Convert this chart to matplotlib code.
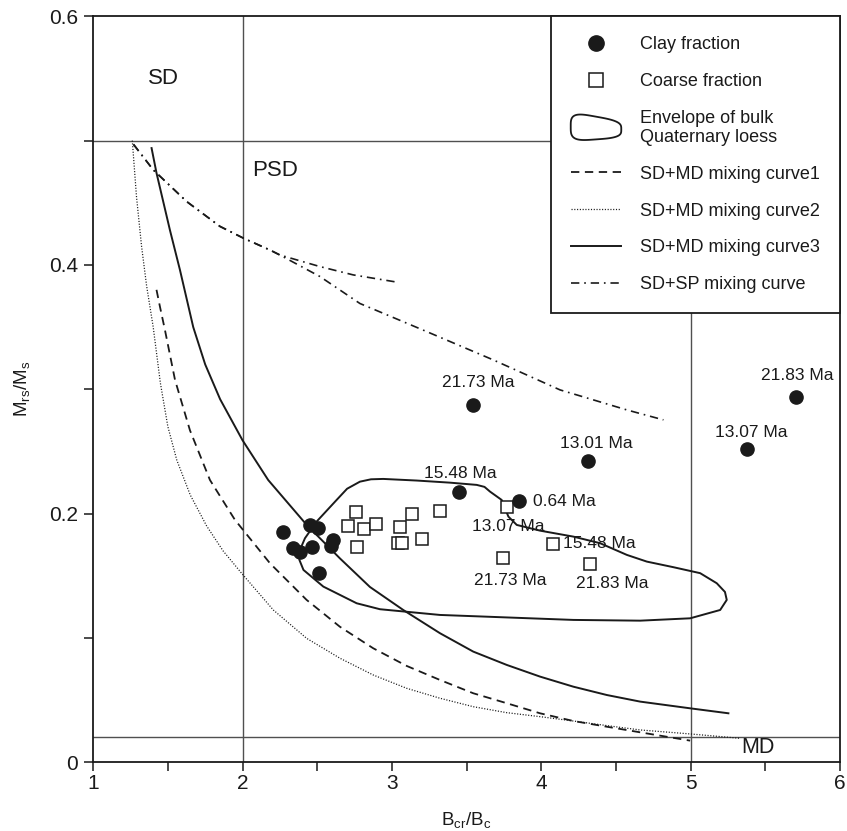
import numpy as np
import matplotlib
matplotlib.use("Agg")
import matplotlib.pyplot as plt
from matplotlib.lines import Line2D
from matplotlib.patches import Polygon
from matplotlib.legend_handler import HandlerPatch

plt.rcParams["font.family"] = ["Liberation Sans", "DejaVu Sans"]
plt.rcParams["mathtext.fontset"] = "custom"
plt.rcParams["mathtext.rm"] = "Liberation Sans"
plt.rcParams["mathtext.it"] = "Liberation Sans"
plt.rcParams["lines.scale_dashes"] = False

# ---- data: Bcr/Bc and Mrs/Ms -------------------------------------------
clay_x = [2.273, 2.451, 2.507, 2.340, 2.384, 2.463, 2.590, 2.605, 2.512,
          3.541, 4.311, 5.707, 5.376, 3.452, 3.853]
clay_y = [0.1855, 0.1909, 0.1882, 0.1722, 0.1694, 0.1735, 0.1740, 0.1785, 0.1526,
          0.2875, 0.2427, 0.2936, 0.2518, 0.2172, 0.2100]
clay_ages = ["", "", "", "", "", "", "", "", "",
             "21.73 Ma", "13.01 Ma", "21.83 Ma", "13.07 Ma", "15.48 Ma", "0.64 Ma"]

coarse_x = [2.757, 2.708, 2.815, 2.891, 2.764, 3.054, 3.137, 3.040, 3.070,
            3.204, 3.322, 3.771, 4.081, 3.742, 4.327]
coarse_y = [0.2016, 0.1904, 0.1874, 0.1917, 0.1735, 0.1896, 0.1998, 0.1767, 0.1767,
            0.1794, 0.2024, 0.2056, 0.1756, 0.1646, 0.1595]
coarse_ages = ["", "", "", "", "", "", "", "", "",
               "", "", "13.07 Ma", "15.48 Ma", "21.73 Ma", "21.83 Ma"]

# envelope of bulk Quaternary loess (closed outline)
env_x = [2.378, 2.418, 2.496, 2.630, 2.700, 2.786, 2.860, 2.942, 3.166, 3.389,
         3.568, 3.620, 3.657, 3.735, 3.780, 3.836, 3.992, 4.215, 4.394, 4.573,
         4.707, 4.885, 5.064, 5.175, 5.230, 5.242, 5.198, 4.997, 4.662, 4.215,
         3.813, 3.322, 2.920, 2.764, 2.541, 2.408, 2.381]
env_y = [0.1690, 0.1802, 0.1936, 0.2110, 0.2200, 0.2257, 0.2276, 0.2279, 0.2266, 0.2249,
         0.2231, 0.2215, 0.2177, 0.2110, 0.1976, 0.1909, 0.1863, 0.1815, 0.1762, 0.1668,
         0.1614, 0.1569, 0.1521, 0.1440, 0.1370, 0.1306, 0.1225, 0.1158, 0.1139, 0.1145,
         0.1163, 0.1185, 0.1231, 0.1279, 0.1413, 0.1547, 0.1627]

# SD+MD mixing curves
mix1_x = [1.424, 1.447, 1.480, 1.548, 1.648, 1.782, 1.949, 2.184, 2.429, 2.652,
          2.875, 3.099, 3.322, 3.545, 3.769, 3.992, 4.215, 4.439, 4.662, 4.997]
mix1_y = [0.380, 0.3665, 0.348, 0.3075, 0.267, 0.227, 0.195, 0.160, 0.1306, 0.109,
          0.0917, 0.0775, 0.0662, 0.0555, 0.0475, 0.0394, 0.0332, 0.0286, 0.0241, 0.0174]

mix2_x = [1.262, 1.290, 1.324, 1.358, 1.380, 1.402, 1.450, 1.500, 1.560, 1.650,
          1.760, 1.870, 1.994, 2.206, 2.429, 2.652, 2.875, 3.099, 3.322, 3.545,
          3.769, 3.992, 4.215, 4.439, 4.662, 4.997, 5.330]
mix2_y = [0.500, 0.455, 0.415, 0.383, 0.3665, 0.350, 0.305, 0.270, 0.243, 0.215,
          0.190, 0.170, 0.152, 0.1225, 0.0997, 0.0837, 0.0702, 0.0595, 0.0515, 0.0447,
          0.0399, 0.0367, 0.0332, 0.0295, 0.0260, 0.0228, 0.0193]

mix3_x = [1.391, 1.424, 1.514, 1.581, 1.670, 1.750, 1.850, 2.000, 2.172, 2.429,
          2.652, 2.853, 3.076, 3.322, 3.545, 3.769, 3.992, 4.215, 4.439, 4.662,
          4.997, 5.253]
mix3_y = [0.494, 0.474, 0.428, 0.396, 0.350, 0.320, 0.292, 0.259, 0.227, 0.191,
          0.164, 0.141, 0.1225, 0.1038, 0.089, 0.0783, 0.0689, 0.0608, 0.0541, 0.0488,
          0.0434, 0.0394]

# SD+SP mixing curves
sp1_x = [1.270, 1.402, 1.626, 1.849, 2.005, 2.184, 2.250, 2.518, 2.786, 3.233,
         3.679, 4.126, 4.573, 4.818]
sp1_y = [0.497, 0.4765, 0.451, 0.431, 0.4216, 0.412, 0.408, 0.3907, 0.369, 0.3464,
         0.3236, 0.2995, 0.2834, 0.2754]
sp2_x = [1.270, 1.402, 1.626, 1.849, 2.005, 2.184, 2.250, 2.518, 2.741, 3.043]
sp2_y = [0.497, 0.4765, 0.451, 0.431, 0.4216, 0.412, 0.408, 0.3987, 0.392, 0.386]

# domain boundaries
bound_bc = [2.0, 5.0]
bound_mr = [0.5, 0.02]

x_ticks = [1, 2, 3, 4, 5, 6]
y_ticks = [0, 0.2, 0.4, 0.6]
y_tick_labels = ["0", "0.2", "0.4", "0.6"]

# ---- figure -------------------------------------------------------------
fig = plt.figure(figsize=(8.47, 8.31), dpi=100)
ax = fig.add_axes([0.110, 0.0827, 0.8817, 0.8977])
ax.set_xlim(1, 6)
ax.set_ylim(0, 0.6)

ink = "#1a1a1a"
grid_c = "#505050"

for xv in bound_bc:
    ax.axvline(xv, color=grid_c, lw=1.0, zorder=1)
for yv in bound_mr:
    ax.axhline(yv, color=grid_c, lw=1.0, zorder=1)

ax.text(1.47, 0.55, "SD", fontsize=16, ha="center", va="center", color=ink)
ax.text(2.22, 0.476, "PSD", fontsize=16, ha="center", va="center", color=ink)
ax.text(5.45, 0.012, "MD", fontsize=15.5, ha="center", va="center", color=ink)

ax.fill(env_x, env_y, facecolor="none", edgecolor=ink, lw=1.4, zorder=2,
        joinstyle="round")
l1, = ax.plot(mix1_x, mix1_y, color=ink, lw=1.3, ls=(0, (6, 4)), zorder=2)
l2, = ax.plot(mix2_x, mix2_y, color=ink, lw=0.9, ls=(0, (0.8, 1.2)), zorder=2)
l3, = ax.plot(mix3_x, mix3_y, color=ink, lw=1.4, ls="-", zorder=2)
l4, = ax.plot(sp1_x, sp1_y, color=ink, lw=1.2, ls=(0, (6, 3.5, 1.2, 3.5)), zorder=2)
ax.plot(sp2_x, sp2_y, color=ink, lw=1.2, ls=(0, (6, 3.5, 1.2, 3.5)), zorder=2)

ax.plot(coarse_x, coarse_y, ls="none", marker="s", ms=8.6, mfc="white",
        mec=ink, mew=1.1, zorder=3)
ax.plot(clay_x, clay_y, ls="none", marker="o", ms=9.5, mfc=ink,
        mec=ink, zorder=4)

# age annotations (offsets in points from each marker)
clay_offsets = {"21.73 Ma": (4, 16, "center"), "13.01 Ma": (6.5, 12.5, "center"),
                "21.83 Ma": (1, 16, "center"), "13.07 Ma": (3, 12, "center"),
                "15.48 Ma": (0.5, 13.7, "center"), "0.64 Ma": (10, 0, "left")}
coarse_offsets = {"13.07 Ma": (1, -14.4, "center"), "15.48 Ma": (7.2, 0, "left"),
                  "21.73 Ma": (5.3, -16.6, "center"), "21.83 Ma": (15.6, -13.9, "center")}
for xs, ys, ages, offs in [(clay_x, clay_y, clay_ages, clay_offsets),
                           (coarse_x, coarse_y, coarse_ages, coarse_offsets)]:
    for xv, yv, lab in zip(xs, ys, ages):
        if not lab:
            continue
        dx, dy, ha = offs[lab]
        ax.annotate(lab, (xv, yv), xytext=(dx, dy), textcoords="offset points",
                    fontsize=12.5, ha=ha, va="center", color=ink, zorder=5)

# axes styling
ax.set_xticks(x_ticks)
ax.set_xticks([1.5, 2.5, 3.5, 4.5, 5.5], minor=True)
ax.set_yticks(y_ticks)
ax.set_yticklabels(y_tick_labels)
ax.set_yticks([0.1, 0.3, 0.5], minor=True)
ax.tick_params(which="both", direction="out", length=6.5, width=1.1, color=ink,
               labelsize=15, labelcolor=ink, top=False, right=False)
ax.tick_params(axis="x", which="both", pad=2)
ax.tick_params(axis="y", which="both", pad=4.5)
for sp in ax.spines.values():
    sp.set_linewidth(1.3)
    sp.set_color(ink)

ax.set_xlabel(r"$\mathregular{B_{cr}/B_c}$", fontsize=13.5, color=ink, labelpad=12)
ax.set_ylabel(r"$\mathregular{M_{rs}/M_s}$", fontsize=13.5, color=ink, labelpad=12)


# legend icon for the envelope: a rounded blob, taller on the left
def envelope_icon(legend, orig_handle, xdescent, ydescent, width, height, fontsize):
    t = np.linspace(0, 2 * np.pi, 120)
    c, s = np.cos(t), np.sin(t)
    u = np.sign(c) * np.abs(c) ** 0.55
    v = np.sign(s) * np.abs(s) ** 0.55
    v = v * (1.0 - 0.28 * u) - 0.12 * u
    h = 1.8 * height
    px = -xdescent + (u + 1) / 2 * width
    py = -ydescent + height / 2 + v * h / 2
    return Polygon(np.column_stack([px, py]), closed=True)


h_clay = Line2D([], [], ls="none", marker="o", ms=11, mfc=ink, mec=ink)
h_coarse = Line2D([], [], ls="none", marker="s", ms=10, mfc="white", mec=ink, mew=1.1)
h_env = Polygon([[0, 0], [1, 0], [1, 1]], closed=True, facecolor="none",
                edgecolor=ink, lw=1.3)
leg = ax.legend([h_clay, h_coarse, h_env, l1, l2, l3, l4],
                ["Clay fraction", "Coarse fraction", "Envelope of bulk\nQuaternary loess",
                 "SD+MD mixing curve1", "SD+MD mixing curve2", "SD+MD mixing curve3",
                 "SD+SP mixing curve"],
                handler_map={Polygon: HandlerPatch(patch_func=envelope_icon)},
                loc="upper right", bbox_to_anchor=(1, 1), borderaxespad=0,
                fontsize=13, handlelength=2.8, handletextpad=1.05, labelspacing=1.1,
                borderpad=1.1, fancybox=False, framealpha=1, edgecolor=ink)
leg.get_frame().set_linewidth(1.3)
for t in leg.get_texts():
    t.set_color(ink)
leg.get_texts()[2].set_linespacing(1.15)

fig.savefig("out.png", dpi=100)
